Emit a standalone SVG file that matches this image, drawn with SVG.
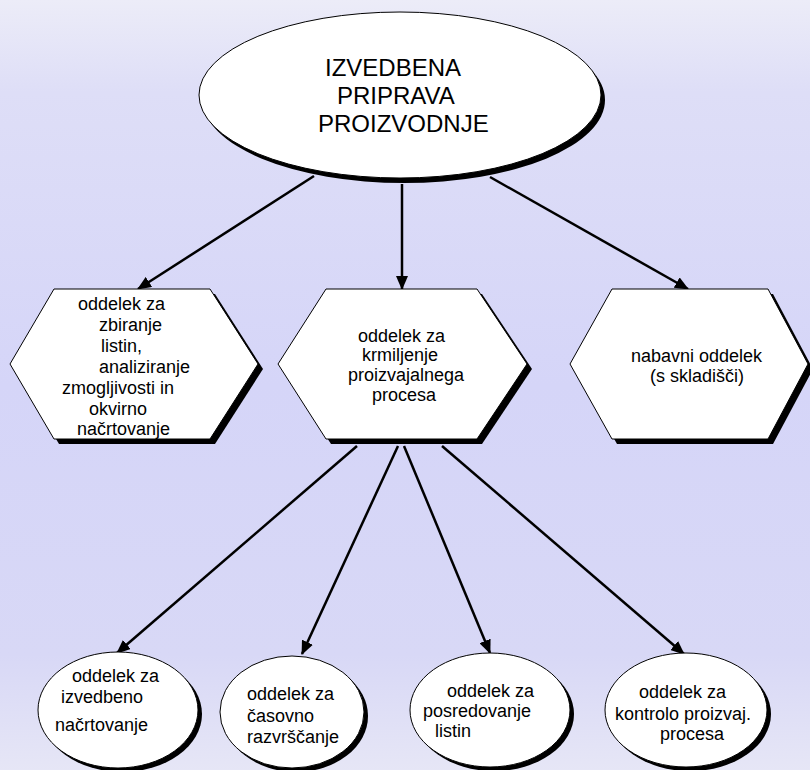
<svg xmlns="http://www.w3.org/2000/svg" width="810" height="770" viewBox="0 0 810 770">
<defs>
<linearGradient id="bg" x1="0" y1="0" x2="0" y2="1">
<stop offset="0" stop-color="#ececf8"/>
<stop offset="0.12" stop-color="#dedef7"/>
<stop offset="0.5" stop-color="#d5d5f8"/>
<stop offset="0.85" stop-color="#d8d8f6"/>
<stop offset="1" stop-color="#e6e6f6"/>
</linearGradient>
<marker id="ah" markerUnits="userSpaceOnUse" markerWidth="14" markerHeight="12" refX="13" refY="6" orient="auto">
<path d="M0,0 L14,6 L0,12 z" fill="#000"/>
</marker>
<ellipse id="topEll" cx="400" cy="95" rx="201" ry="83"/>
<polygon id="hexL" points="10,364 54,289 210,289 258,364 210,439 54,439"/>
<polygon id="hexM" points="278,364 326,289 477,289 527,364 477,439 326,439"/>
<polygon id="hexR" points="570,364 612,289 768,289 808,364 768,439 612,439"/>
</defs>
<style>
.shadow{fill:#000}
.shape{fill:#fff;stroke:#000;stroke-width:1}
.conn{stroke:#000;stroke-width:2.5;fill:none;marker-end:url(#ah)}
text{font-family:"Liberation Sans",Arial,sans-serif;font-size:18px;fill:#000}
.big{font-size:24px}
</style>
<rect width="810" height="770" fill="url(#bg)"/>

<g id="connectors">
<line class="conn" x1="314" y1="176" x2="138" y2="289"/>
<line class="conn" x1="402" y1="184" x2="402" y2="289"/>
<line class="conn" x1="490" y1="177" x2="688" y2="289"/>
<line class="conn" x1="357" y1="446" x2="117" y2="653"/>
<line class="conn" x1="398" y1="446" x2="302" y2="654"/>
<line class="conn" x1="404" y1="446" x2="490" y2="653"/>
<line class="conn" x1="442" y1="446" x2="684" y2="654"/>
</g>

<g id="node-top">
<use href="#topEll" class="shadow" transform="translate(4,5)"/>
<use href="#topEll" class="shape"/>
<text class="big" x="325" y="76">IZVEDBENA</text>
<text class="big" x="337" y="104">PRIPRAVA</text>
<text class="big" x="318" y="132">PROIZVODNJE</text>
</g>

<g id="node-zbiranje">
<use href="#hexL" class="shadow" transform="translate(5,5)"/>
<use href="#hexL" class="shape"/>
<text x="78" y="310">oddelek za</text>
<text x="99" y="331">zbiranje</text>
<text x="101" y="352">listin,</text>
<text x="99" y="373">analiziranje</text>
<text x="62" y="394">zmogljivosti in</text>
<text x="89" y="415">okvirno</text>
<text x="77" y="435">načrtovanje</text>
</g>

<g id="node-krmiljenje">
<use href="#hexM" class="shadow" transform="translate(5,5)"/>
<use href="#hexM" class="shape"/>
<text x="358" y="342">oddelek za</text>
<text x="362" y="361">krmiljenje</text>
<text x="348" y="381">proizvajalnega</text>
<text x="372" y="401">procesa</text>
</g>

<g id="node-nabavni">
<use href="#hexR" class="shadow" transform="translate(5,5)"/>
<use href="#hexR" class="shape"/>
<text x="631" y="362">nabavni oddelek</text>
<text x="650" y="382">(s skladišči)</text>
</g>

<g id="node-izvedbeno">
<ellipse class="shadow" cx="122" cy="714" rx="80" ry="58"/>
<ellipse class="shape" cx="118" cy="710" rx="80" ry="58"/>
<text x="72" y="682">oddelek za</text>
<text x="61" y="703">izvedbeno</text>
<text x="55" y="731">načrtovanje</text>
</g>

<g id="node-casovno">
<ellipse class="shadow" cx="296" cy="716" rx="72" ry="56"/>
<ellipse class="shape" cx="292" cy="712" rx="72" ry="56"/>
<text x="247" y="700">oddelek za</text>
<text x="247" y="722">časovno</text>
<text x="247" y="743">razvrščanje</text>
</g>

<g id="node-posredovanje">
<ellipse class="shadow" cx="494" cy="714" rx="80" ry="57"/>
<ellipse class="shape" cx="490" cy="710" rx="80" ry="57"/>
<text x="447" y="697">oddelek za</text>
<text x="423" y="717">posredovanje</text>
<text x="435" y="737">listin</text>
</g>

<g id="node-kontrola">
<ellipse class="shadow" cx="690" cy="714" rx="81" ry="57"/>
<ellipse class="shape" cx="686" cy="710" rx="81" ry="57"/>
<text x="639" y="698">oddelek za</text>
<text x="615" y="720">kontrolo proizvaj.</text>
<text x="660" y="740">procesa</text>
</g>
</svg>
